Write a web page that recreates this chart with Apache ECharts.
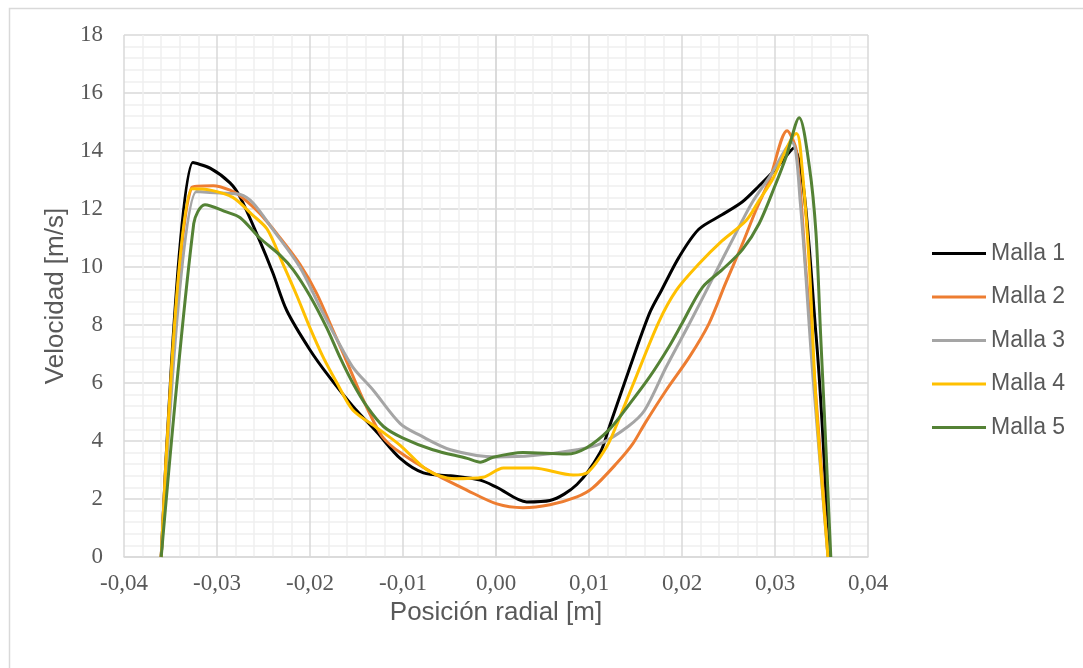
<!DOCTYPE html>
<html>
<head>
<meta charset="utf-8">
<script src="https://cdn.jsdelivr.net/npm/echarts@6/dist/echarts.min.js"></script>
<style>
  html, body { margin: 0; padding: 0; background: #fff; }
  #chart { width: 1083px; height: 668px; }
</style>
</head>
<body>
<div id="chart"></div>
<script>
// perfil de velocidad por malla: [posición radial (m), velocidad (m/s)]
const malla1 = [
  [-0.036, 0], [-0.0326, 13.6], [-0.0307, 13.4], [-0.0286, 12.9], [-0.0275, 12.4],
  [-0.0254, 10.9], [-0.024, 9.8], [-0.0225, 8.5], [-0.02, 7.14], [-0.0179, 6.2],
  [-0.0154, 5.2], [-0.0128, 4.3], [-0.0103, 3.4], [-0.0078, 2.9], [-0.0049, 2.8],
  [-0.0017, 2.65], [0.0001, 2.4], [0.0033, 1.9], [0.0058, 1.95], [0.0087, 2.5],
  [0.0112, 3.6], [0.0122, 4.5], [0.0143, 6.45], [0.0165, 8.4], [0.0178, 9.2],
  [0.0197, 10.35], [0.0218, 11.3], [0.0243, 11.8], [0.0265, 12.25], [0.0283, 12.8],
  [0.03, 13.35], [0.032, 14.1], [0.0344, 7.7], [0.0358, 0]
]
const malla2 = [
  [-0.036, 0], [-0.0327, 12.75], [-0.0304, 12.8], [-0.0286, 12.65], [-0.0275, 12.45],
  [-0.0254, 11.85], [-0.0232, 11.0], [-0.0211, 10.1], [-0.0193, 9.1], [-0.0175, 7.8],
  [-0.016, 6.7], [-0.0146, 5.65], [-0.0132, 4.7], [-0.0121, 4.1], [-0.0103, 3.6],
  [-0.0068, 2.9], [-0.0031, 2.3], [0.0001, 1.83], [0.0029, 1.7], [0.0058, 1.8],
  [0.0087, 2.07], [0.0104, 2.38], [0.013, 3.24], [0.0147, 3.9], [0.016, 4.6],
  [0.0183, 5.75], [0.0208, 6.9], [0.0229, 8.05], [0.0247, 9.45], [0.0265, 10.8],
  [0.028, 12.0], [0.0294, 13.0], [0.0313, 14.7], [0.0323, 14.0], [0.0333, 10.0],
  [0.0347, 4.3], [0.0357, 0]
]
const malla3 = [
  [-0.036, 0], [-0.0322, 12.6], [-0.0297, 12.55], [-0.0275, 12.5], [-0.0261, 12.2],
  [-0.024, 11.3], [-0.0211, 10.0], [-0.0189, 8.6], [-0.0171, 7.5], [-0.0154, 6.55],
  [-0.0132, 5.75], [-0.0103, 4.6], [-0.0082, 4.2], [-0.0049, 3.7], [0.0001, 3.45],
  [0.004, 3.5], [0.0087, 3.7], [0.0112, 3.9], [0.0142, 4.5], [0.016, 5.07],
  [0.0183, 6.55], [0.0208, 8.05], [0.0232, 9.55], [0.0258, 11.17], [0.0275, 12.2],
  [0.0294, 13.1], [0.0318, 14.3], [0.0327, 12.3], [0.034, 6.55], [0.0357, 0]
]
const malla4 = [
  [-0.036, 0], [-0.0327, 12.7], [-0.0307, 12.65], [-0.0283, 12.4], [-0.0262, 11.8],
  [-0.0246, 11.3], [-0.0229, 10.1], [-0.0214, 9.0], [-0.02, 7.9], [-0.0186, 6.9],
  [-0.0171, 6.0], [-0.0154, 5.07], [-0.0130, 4.5], [-0.0103, 3.85], [-0.0074, 3.0],
  [-0.0046, 2.7], [-0.0014, 2.75], [0.0008, 3.07], [0.004, 3.07], [0.0083, 2.83],
  [0.0099, 2.93], [0.0119, 3.8], [0.0129, 4.5], [0.0148, 6.0], [0.0175, 8.1],
  [0.0194, 9.2], [0.0218, 10.1], [0.0243, 10.9], [0.0269, 11.6], [0.0283, 12.3],
  [0.0297, 13.0], [0.0323, 14.6], [0.0329, 13.45], [0.0337, 10.0], [0.0344, 5.4],
  [0.0357, 0]
]
const malla5 = [
  [-0.036, 0], [-0.0325, 11.5], [-0.0313, 12.15], [-0.029, 11.9], [-0.0275, 11.7],
  [-0.0254, 11.0], [-0.0232, 10.4], [-0.0218, 9.9], [-0.02, 9.0], [-0.0182, 7.9],
  [-0.0168, 6.9], [-0.0154, 6.0], [-0.0139, 5.2], [-0.0121, 4.5], [-0.01, 4.1],
  [-0.0068, 3.7], [-0.0031, 3.4], [-0.0017, 3.27], [-0.0003, 3.44], [0.0029, 3.6],
  [0.0076, 3.55], [0.0097, 3.76], [0.0122, 4.4], [0.0143, 5.25], [0.0165, 6.2],
  [0.0186, 7.25], [0.02, 8.05], [0.0222, 9.3], [0.0243, 9.9], [0.0265, 10.6],
  [0.0283, 11.5], [0.03, 12.8], [0.0312, 13.8], [0.0326, 15.15], [0.0337, 13.45],
  [0.0344, 11.2], [0.0349, 7.7], [0.0354, 4.3], [0.036, 0]
]

const seriesNames = ['Malla 1', 'Malla 2', 'Malla 3', 'Malla 4', 'Malla 5']
const seriesData = [malla1, malla2, malla3, malla4, malla5]
const seriesColors = ['#000000', '#ED7D31', '#A5A5A5', '#FFC000', '#548235']

const tickFont = 'Liberation Serif, Times New Roman, serif'
const textFont = 'Liberation Sans, Arial, sans-serif'

function fmtComma (v) {
  if (Math.abs(v) < 1e-9) v = 0
  return v.toFixed(2).replace('.', ',')
}

const chart = echarts.init(document.getElementById('chart'))

const option = {
  animation: false,
  backgroundColor: '#ffffff',
  graphic: [{
    type: 'rect',
    left: 7,
    top: 6,
    shape: { width: 1200, height: 800 },
    style: { fill: 'none', stroke: '#d9d9d9', lineWidth: 1.5 },
    silent: true
  }],
  grid: {
    left: 124,
    right: 215,
    top: 35,
    bottom: 111
  },
  legend: {
    orient: 'vertical',
    left: 932,
    top: 242,
    padding: 0,
    icon: 'rect',
    itemWidth: 54,
    itemHeight: 3,
    itemGap: 20.5,
    data: seriesNames,
    textStyle: {
      fontFamily: textFont,
      fontSize: 23,
      lineHeight: 22,
      color: '#595959'
    }
  },
  xAxis: {
    type: 'value',
    min: -0.04,
    max: 0.04,
    interval: 0.01,
    name: 'Posición radial [m]',
    nameLocation: 'middle',
    nameGap: 38,
    nameTextStyle: { fontFamily: textFont, fontSize: 26, color: '#595959' },
    axisLine: { show: true, onZero: false, lineStyle: { color: '#d9d9d9', width: 1.5 } },
    axisTick: { show: false },
    axisLabel: {
      margin: 15,
      fontFamily: tickFont,
      fontSize: 23,
      color: '#595959',
      formatter: fmtComma
    },
    splitLine: { show: true, lineStyle: { color: '#d9d9d9', width: 1.5 } },
    minorTick: { show: false, splitNumber: 5 },
    minorSplitLine: { show: true, lineStyle: { color: '#f0f0f0', width: 1.5 } }
  },
  yAxis: {
    type: 'value',
    min: 0,
    max: 18,
    interval: 2,
    name: 'Velocidad [m/s]',
    nameLocation: 'middle',
    nameGap: 55,
    nameTextStyle: { fontFamily: textFont, fontSize: 26, color: '#595959' },
    axisLine: { show: true, lineStyle: { color: '#d9d9d9', width: 1.5 } },
    axisTick: { show: false },
    axisLabel: {
      margin: 21,
      fontFamily: tickFont,
      fontSize: 23,
      color: '#595959'
    },
    splitLine: { show: true, lineStyle: { color: '#d9d9d9', width: 1.5 } },
    minorTick: { show: false, splitNumber: 5 },
    minorSplitLine: { show: true, lineStyle: { color: '#f0f0f0', width: 1.5 } }
  },
  series: seriesNames.map((name, i) => ({
    name: name,
    type: 'line',
    data: seriesData[i],
    smooth: 0.3,
    symbol: 'none',
    color: seriesColors[i],
    lineStyle: { color: seriesColors[i], width: 3 }
  }))
}

chart.setOption(option)
</script>
</body>
</html>
